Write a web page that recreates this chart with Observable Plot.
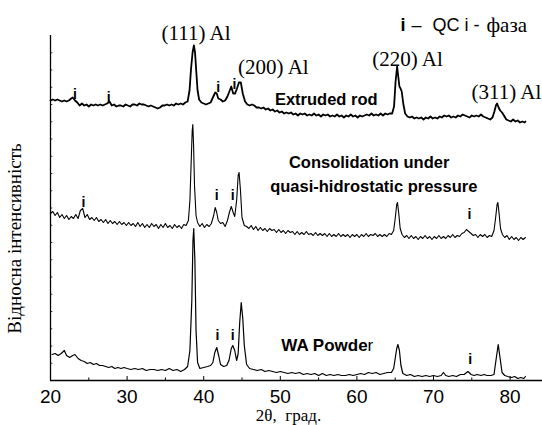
<!DOCTYPE html>
<html><head><meta charset="utf-8">
<script src="https://cdn.jsdelivr.net/npm/d3@7"></script>
<script src="https://cdn.jsdelivr.net/npm/@observablehq/plot@0.6"></script>
<style>body{margin:0;background:#fff}</style>
</head><body><div id="chart"></div>
<script>
// 2θ (deg) and relative intensity (a.u., stacked patterns)
const extrudedRod = [
[20.0,280],[20.3,281],[20.6,280],[20.9,281],[21.2,280],[21.5,279],[21.8,280],[22.1,279],[22.4,280],[22.7,282],[22.9,283],[23.2,280],[23.5,278],[23.8,275],[24.1,277],[24.4,275],[24.7,276],[25.0,274],[25.3,276],[25.6,275],[25.9,276],[26.2,275],[26.5,276],[26.8,275],[27.1,276],[27.4,277],[27.7,279],[28.0,275],[28.3,276],[28.6,274],[28.9,275],[29.2,275],[29.5,274],[29.8,276],[30.1,275],[30.4,274],[30.7,276],[31.0,276],[31.3,275],[31.6,277],[31.9,276],[32.2,276],[32.5,275],[32.8,274],[33.1,275],[33.4,274],[33.7,273],[34.0,272],[34.3,273],[34.6,275],[34.9,275],[35.2,276],[35.5,275],[35.8,276],[36.1,275],[36.4,277],[36.7,276],[37.0,277],[37.3,276],[37.6,278],[37.9,279],[38.15,290],[38.35,312],[38.55,328],[38.72,335],[38.87,328],[39.02,310],[39.2,290],[39.4,281],[39.7,278],[40.0,277],[40.3,276],[40.6,277],[40.9,278],[41.2,283],[41.5,288],[41.7,287],[41.9,282],[42.2,281],[42.5,279],[42.8,280],[43.1,284],[43.35,289],[43.6,294],[43.85,287],[44.1,287],[44.35,292],[44.6,298],[44.85,298],[45.1,287],[45.4,279],[45.7,276],[46.0,275],[46.3,276],[46.6,275],[46.9,273],[47.2,273],[47.5,272],[47.8,273],[48.1,271],[48.4,272],[48.7,270],[49.0,271],[49.3,269],[49.6,270],[49.9,268],[50.2,269],[50.5,267],[50.8,268],[51.1,267],[51.4,268],[51.7,266],[52.0,267],[52.3,265],[52.6,267],[52.9,266],[53.2,267],[53.5,265],[53.8,266],[54.1,265],[54.4,267],[54.7,265],[55.0,266],[55.3,264],[55.6,266],[55.9,265],[56.2,266],[56.5,264],[56.8,265],[57.1,264],[57.4,266],[57.7,264],[58.0,265],[58.3,263],[58.6,265],[58.9,264],[59.2,266],[59.5,264],[59.8,265],[60.1,263],[60.4,265],[60.7,264],[61.0,265],[61.3,266],[61.6,265],[61.9,267],[62.2,265],[62.5,266],[62.8,265],[63.1,267],[63.4,265],[63.7,267],[64.0,266],[64.3,267],[64.6,267],[64.85,274],[65.05,299],[65.25,314],[65.4,304],[65.55,294],[65.7,292],[65.85,289],[66.05,277],[66.3,267],[66.6,264],[66.9,263],[67.2,264],[67.5,262],[67.8,263],[68.1,262],[68.4,263],[68.7,261],[69.0,263],[69.3,262],[69.6,264],[69.9,262],[70.2,263],[70.5,262],[70.8,264],[71.1,263],[71.4,265],[71.7,264],[72.0,265],[72.3,263],[72.6,264],[72.9,263],[73.2,265],[73.5,264],[73.8,266],[74.1,265],[74.4,264],[74.7,263],[75.0,265],[75.3,264],[75.6,265],[75.9,264],[76.2,266],[76.5,264],[76.8,263],[77.1,262],[77.4,261],[77.7,263],[77.95,269],[78.15,275],[78.3,277],[78.5,273],[78.7,270],[78.95,268],[79.2,265],[79.5,261],[79.8,260],[80.1,259],[80.4,261],[80.7,259],[81.0,260],[81.3,258],[81.6,259],[81.9,258],[82.0,259]
];
const consolidation = [
[20.0,167],[20.3,169],[20.6,165],[20.9,168],[21.2,163],[21.5,166],[21.8,162],[22.1,165],[22.4,161],[22.7,164],[23.0,162],[23.3,166],[23.6,162],[23.9,170],[24.2,172],[24.5,163],[24.8,166],[25.1,161],[25.4,163],[25.7,160],[26.0,163],[26.3,159],[26.6,161],[26.9,158],[27.2,161],[27.5,157],[27.8,160],[28.1,157],[28.4,159],[28.7,156],[29.0,159],[29.3,156],[29.6,158],[29.9,155],[30.2,158],[30.5,155],[30.8,157],[31.1,154],[31.4,158],[31.7,154],[32.0,157],[32.3,153],[32.6,156],[32.9,153],[33.2,157],[33.5,154],[33.8,156],[34.1,152],[34.4,156],[34.7,153],[35.0,157],[35.3,153],[35.6,155],[35.9,152],[36.2,156],[36.5,153],[36.8,155],[37.1,152],[37.4,156],[37.7,155],[38.0,160],[38.2,180],[38.35,215],[38.5,250],[38.58,256],[38.68,235],[38.8,195],[39.0,165],[39.2,158],[39.5,154],[39.8,157],[40.1,153],[40.4,156],[40.7,154],[41.0,157],[41.3,165],[41.5,173],[41.7,168],[41.9,160],[42.2,157],[42.5,158],[42.8,154],[43.1,160],[43.35,168],[43.6,174],[43.85,168],[44.05,164],[44.3,180],[44.5,205],[44.62,208],[44.8,190],[45.0,163],[45.3,155],[45.6,154],[45.9,152],[46.2,155],[46.5,151],[46.8,154],[47.1,150],[47.4,153],[47.7,150],[48.0,152],[48.3,149],[48.6,152],[48.9,150],[49.2,151],[49.5,148],[49.8,151],[50.1,148],[50.4,150],[50.7,147],[51.0,150],[51.3,148],[51.6,149],[51.9,146],[52.2,149],[52.5,146],[52.8,148],[53.1,146],[53.4,149],[53.7,146],[54.0,147],[54.3,145],[54.6,148],[54.9,145],[55.2,147],[55.5,145],[55.8,147],[56.1,144],[56.4,147],[56.7,144],[57.0,146],[57.3,144],[57.6,147],[57.9,144],[58.2,146],[58.5,144],[58.8,146],[59.1,143],[59.4,146],[59.7,144],[60.0,146],[60.3,143],[60.6,146],[60.9,144],[61.2,147],[61.5,144],[61.8,146],[62.1,145],[62.4,147],[62.7,144],[63.0,146],[63.3,144],[63.6,146],[63.9,144],[64.2,147],[64.5,146],[64.8,150],[65.0,162],[65.2,176],[65.3,178],[65.45,168],[65.65,152],[65.9,146],[66.2,143],[66.5,145],[66.8,142],[67.1,145],[67.4,142],[67.7,144],[68.0,141],[68.3,144],[68.6,142],[68.9,145],[69.2,142],[69.5,144],[69.8,141],[70.1,144],[70.4,142],[70.7,145],[71.0,142],[71.3,144],[71.6,142],[71.9,145],[72.2,143],[72.5,146],[72.8,143],[73.1,145],[73.4,144],[73.7,147],[74.0,148],[74.3,151],[74.6,149],[74.9,147],[75.2,145],[75.5,146],[75.8,143],[76.1,146],[76.4,144],[76.7,146],[77.0,143],[77.3,145],[77.6,144],[77.9,150],[78.1,162],[78.3,176],[78.4,178],[78.55,168],[78.75,152],[79.0,146],[79.3,143],[79.6,145],[79.9,141],[80.2,144],[80.5,141],[80.8,143],[81.1,140],[81.4,143],[81.7,141],[82.0,143]
];
const waPowder = [
[20.2,26],[20.6,27],[21.0,25],[21.4,27],[21.8,30],[22.1,25],[22.5,23],[22.9,25],[23.2,26],[23.6,22],[24.0,20],[24.4,19],[24.8,17],[25.2,18],[25.6,16],[26.0,17],[26.4,15],[26.8,15],[27.2,14],[27.6,13],[28.0,14],[28.4,12],[28.8,13],[29.2,12],[29.6,13],[30.0,12],[30.5,11],[31.0,12],[31.5,11],[32.0,12],[32.5,10],[33.0,11],[33.5,11],[34.0,10],[34.5,11],[35.0,10],[35.5,12],[36.0,10],[36.5,11],[37.0,9],[37.5,11],[37.9,14],[38.2,30],[38.45,80],[38.6,140],[38.7,152],[38.85,120],[39.0,50],[39.2,18],[39.5,12],[40.0,13],[40.5,14],[40.9,15],[41.2,18],[41.45,28],[41.7,33],[41.95,25],[42.2,16],[42.6,14],[43.0,15],[43.3,20],[43.6,32],[43.8,35],[44.05,30],[44.3,20],[44.5,27],[44.7,58],[44.9,78],[45.1,62],[45.3,35],[45.6,16],[46.0,12],[46.5,11],[47.0,10],[47.5,11],[48.0,9],[48.5,10],[49.0,9],[49.5,8],[50.0,9],[50.5,8],[51.0,7],[51.5,8],[52.0,7],[52.5,8],[53.0,6],[53.5,7],[54.0,6],[54.5,7],[55.0,5],[55.5,7],[56.0,5],[56.5,6],[57.0,5],[57.5,6],[58.0,5],[58.5,5],[59.0,6],[59.5,5],[60.0,6],[60.5,7],[61.0,6],[61.5,8],[62.0,7],[62.5,8],[63.0,6],[63.5,7],[64.0,8],[64.5,8],[64.8,12],[65.0,22],[65.2,32],[65.35,36],[65.55,30],[65.75,15],[66.0,7],[66.5,5],[67.0,6],[67.5,4],[68.0,5],[68.5,4],[69.0,5],[69.5,4],[70.0,5],[70.5,4],[71.0,5],[71.3,8],[71.6,5],[72.0,4],[72.5,5],[73.0,4],[73.5,6],[74.0,6],[74.5,9],[74.9,6],[75.3,5],[75.7,6],[76.2,5],[76.6,6],[77.0,5],[77.5,5],[77.9,6],[78.15,20],[78.45,36],[78.7,22],[78.95,8],[79.3,5],[79.7,4],[80.2,3],[80.6,4],[81.0,2],[81.4,3],[81.8,2],[82.0,4]
];

const xTicks = [20, 30, 40, 50, 60, 70, 80];
const xMinorTicks = [25, 35, 45, 55, 65, 75];
const yTicks = d3.range(0, 345, 17.25);

const peakLabels = [
  {text: "(111) Al", x: 39.0, y: 347},
  {text: "(200) Al", x: 49.1, y: 313},
  {text: "(220) Al", x: 66.6, y: 321}
];
const edgePeakLabel = [{text: "(311) Al", x: 74.96, y: 288}];
const phaseMarks = [
  {x: 23.2, y: 286}, {x: 27.6, y: 283}, {x: 41.9, y: 293}, {x: 44.0, y: 296},
  {x: 24.3, y: 178}, {x: 41.7, y: 185}, {x: 43.8, y: 185}, {x: 74.7, y: 166},
  {x: 41.8, y: 45}, {x: 43.8, y: 45}, {x: 74.8, y: 21}
];
const sampleLabels = [
  {text: "Extruded rod", x: 56.0, y: 281},
  {text: "Consolidation under", x: 61.6, y: 218},
  {text: "quasi-hidrostatic pressure", x: 62.2, y: 194}
];

const serif = "Liberation Serif, Times New Roman, serif";
const sans = "Liberation Sans, Arial, sans-serif";
const xMax = 84.23;

const chart = Plot.plot({
  width: 542, height: 425,
  marginLeft: 50, marginRight: 0, marginTop: 35, marginBottom: 45,
  x: {domain: [20, xMax], axis: null},
  y: {domain: [0, 345], axis: null},
  marks: [
    Plot.ruleY([0], {x1: 20, x2: xMax, stroke: "black", strokeWidth: 1.3}),
    Plot.ruleX([20], {y1: 0, y2: 345, stroke: "black", strokeWidth: 1.3}),
    Plot.ruleX(xTicks, {y1: 0, y2: 4, stroke: "black", strokeWidth: 1}),
    Plot.ruleX(xMinorTicks, {y1: 0, y2: 2.5, stroke: "black", strokeWidth: 1}),
    Plot.ruleY(yTicks, {x1: 20, x2: 20.3, stroke: "black", strokeWidth: 0.8}),
    Plot.line(extrudedRod, {x: d => d[0], y: d => d[1], stroke: "black", strokeWidth: 1.8}),
    Plot.line(consolidation, {x: d => d[0], y: d => d[1], stroke: "black", strokeWidth: 1.1}),
    Plot.line(waPowder, {x: d => d[0], y: d => d[1], stroke: "black", strokeWidth: 1.2}),
    Plot.text(xTicks, {x: d => d, y: 0, dy: 16, text: d => String(d), fontSize: 19, fontFamily: sans, fill: "black"}),
    Plot.text(["2θ,  град."], {x: 51.07, y: 0, dy: 35, text: d => d, fontSize: 17, fontFamily: serif, fill: "black"}),
    Plot.text(["Відносна інтенсивність"], {x: 20, y: 142, dx: -36, rotate: -90, text: d => d, fontSize: 19, fontFamily: serif, fill: "black"}),
    Plot.text(peakLabels, {x: "x", y: "y", text: "text", fontSize: 21, fontFamily: serif, fill: "black"}),
    Plot.text(edgePeakLabel, {x: "x", y: "y", text: "text", textAnchor: "start", fontSize: 21, fontFamily: serif, fill: "black"}),
    Plot.text(phaseMarks, {x: "x", y: "y", text: () => "i", fontSize: 14, fontWeight: "bold", fontFamily: sans, fill: "black"}),
    Plot.text(sampleLabels, {x: "x", y: "y", text: "text", fontSize: 16.5, fontWeight: "bold", fontFamily: sans, fill: "black"}),
    Plot.text(["WA Powde"], {x: 61.4, y: 35, text: d => d, textAnchor: "end", fontSize: 17, fontWeight: "bold", fontFamily: sans, fill: "black"}),
    Plot.text(["r"], {x: 61.4, y: 35, text: d => d, textAnchor: "start", fontSize: 17, fontFamily: sans, fill: "black"}),
    Plot.text(["i"], {x: 65.69, y: 355, text: d => d, textAnchor: "start", fontSize: 18, fontWeight: "bold", fontFamily: sans, fill: "black"}),
    Plot.text(["–"], {x: 67.13, y: 355, text: d => d, textAnchor: "start", fontSize: 18, fontFamily: sans, fill: "black"}),
    Plot.text(["QC i -"], {x: 69.87, y: 355, text: d => d, textAnchor: "start", fontSize: 18, fontFamily: sans, fill: "black"}),
    Plot.text(["фаза"], {x: 76.92, y: 355, text: d => d, textAnchor: "start", fontSize: 21, fontFamily: serif, fill: "black"})
  ]
});
chart.style.overflow = "hidden";
document.getElementById("chart").appendChild(chart);
</script>
</body></html>
